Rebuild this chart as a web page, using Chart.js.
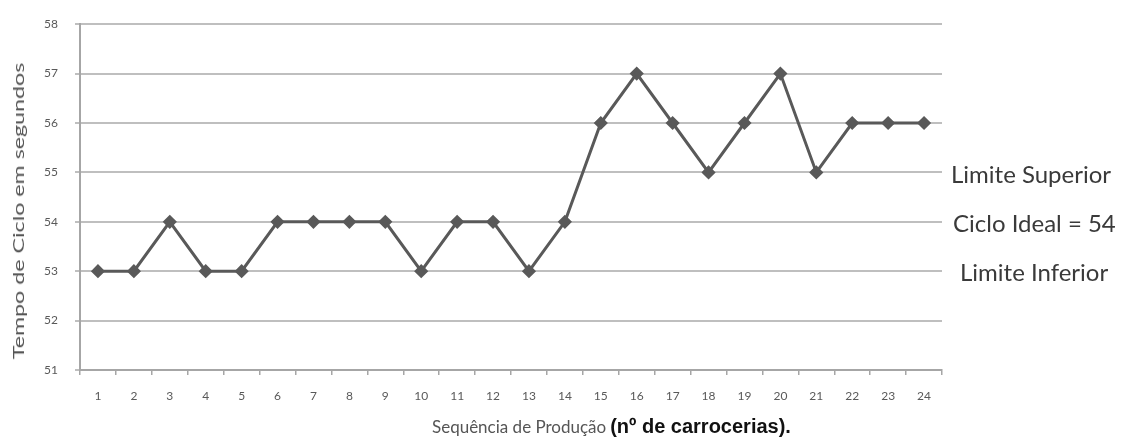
<!DOCTYPE html>
<html>
<head>
<meta charset="utf-8">
<script src="https://cdn.jsdelivr.net/npm/chart.js@4/dist/chart.umd.min.js"></script>
<style>
  html, body { margin: 0; padding: 0; background: #fff; }
  #wrap { position: relative; width: 1123px; height: 439px; overflow: hidden; }
  #c { position: absolute; left: 0; top: 0; }
  .lbl { position: absolute; font-family: Lato, "Open Sans", sans-serif; color: #3a3a3a; font-size: 24px; white-space: nowrap; transform: translateY(-50%); }
  #xt { position: absolute; left: 432px; top: 414px; white-space: nowrap; line-height: 24px; }
  #xt .a { font-family: Lato, "Open Sans", sans-serif; font-size: 17px; color: #555; }
  #xt .b { font-family: "Liberation Sans", Arial, sans-serif; font-size: 20px; font-weight: bold; color: #111; }
  #yt { position: absolute; left: 18px; top: 211px; white-space: nowrap; font-family: Lato, "Open Sans", sans-serif; font-size: 15px; color: #555;
        transform: translate(-50%, -50%) rotate(-90deg) scaleX(1.55); }
</style>
</head>
<body>
<div id="wrap">
  <canvas id="c" width="1123" height="439"></canvas>
  <div class="lbl" style="left:951px; top:173px;">Limite Superior</div>
  <div class="lbl" style="left:953px; top:222px;">Ciclo Ideal = 54</div>
  <div class="lbl" style="left:960px; top:271px;">Limite Inferior</div>
  <div id="xt"><span class="a">Sequência de Produção</span> <span class="b">(nº de carrocerias).</span></div>
  <div id="yt"></div>
</div>
<script>
const categories = ["1","2","3","4","5","6","7","8","9","10","11","12","13","14","15","16","17","18","19","20","21","22","23","24"];
const cycleTimes = [53,53,54,53,53,54,54,54,54,53,54,54,53,54,56,57,56,55,56,57,55,56,56,56];
const yMin = 51, yMax = 58, yStep = 1;
const yTitle = "Tempo de Ciclo em segundos";
document.getElementById('yt').textContent = yTitle;

const tickFont = { family: "Lato, 'Open Sans', sans-serif", size: 12 };

new Chart(document.getElementById('c'), {
  type: 'line',
  data: {
    labels: categories,
    datasets: [{
      data: cycleTimes,
      borderColor: '#595959',
      backgroundColor: '#595959',
      borderWidth: 3,
      pointStyle: 'rectRot',
      pointRadius: 5,
      pointHoverRadius: 5,
      tension: 0
    }]
  },
  options: {
    responsive: false,
    animation: false,
    layout: { padding: { left: 0, right: 181, top: 24, bottom: 0 } },
    plugins: { legend: { display: false }, tooltip: { enabled: false } },
    scales: {
      x: {
        offset: true,
        grid: { display: true, drawOnChartArea: false, offset: true, tickLength: 5, color: '#a6a6a6', lineWidth: 1.5 },
        border: { color: '#a6a6a6', width: 2 },
        ticks: { color: '#595959', font: tickFont, padding: 14, maxRotation: 0, autoSkip: false },
        afterFit: s => { s.height = 69; }
      },
      y: {
        min: yMin, max: yMax,
        grid: { color: '#bfbfbf', lineWidth: 2, tickLength: 5 },
        border: { color: '#a6a6a6', width: 2 },
        ticks: { stepSize: yStep, color: '#595959', font: tickFont, padding: 17 },
        afterFit: s => { s.width = 80; }
      }
    }
  }
});
</script>
</body>
</html>
